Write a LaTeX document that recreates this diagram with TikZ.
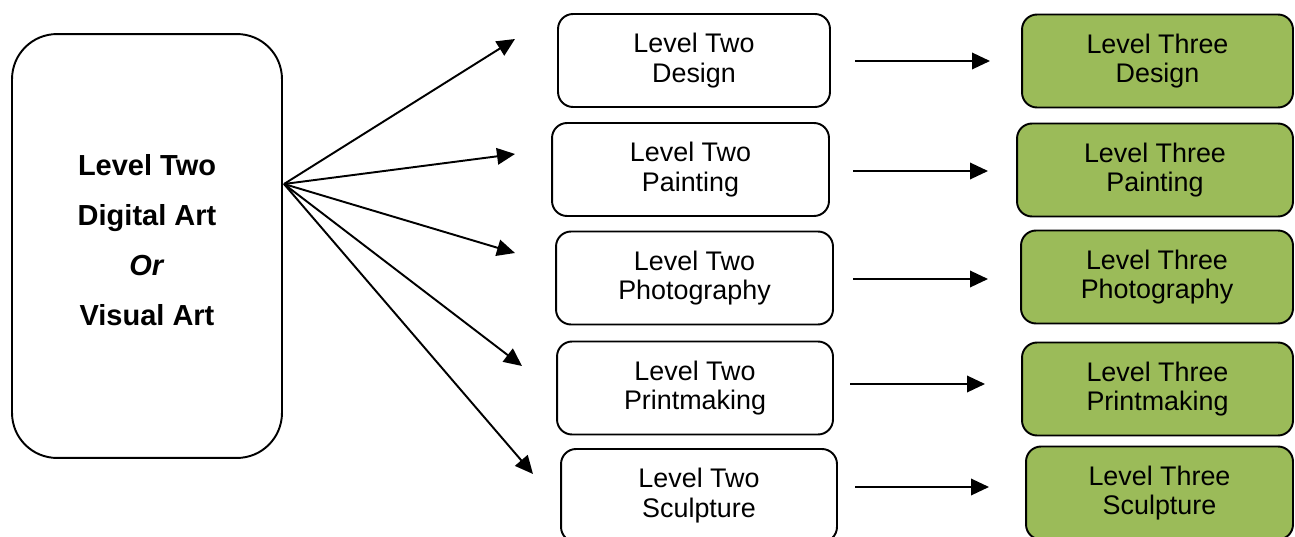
\documentclass[tikz,border=0pt]{standalone}
\usepackage{fontspec}
\setmainfont{Liberation Sans}
\usetikzlibrary{arrows.meta}

\definecolor{lvlgreen}{HTML}{9BBB59}

\begin{document}
\begin{tikzpicture}[x=0.02cm, y=-0.02cm,
  lvltwo/.style={draw, line width=1.1pt, rounded corners=0.3cm, align=center,
    minimum height=1.86cm, font=\fontsize{15.3}{17}\selectfont},
  lvlthree/.style={lvltwo, fill=lvlgreen},
  mainbox/.style={draw, line width=1.1pt, rounded corners=0.9cm,
    minimum width=5.4cm, minimum height=8.48cm},
  maintext/.style={align=center, font=\bfseries\fontsize{16.5}{28.5}\selectfont},
  arr/.style={-{Triangle[length=0.36cm,width=0.33cm]}, line width=1.1pt}]

\useasboundingbox (0,0) rectangle (1295,537);

\node[mainbox] (main) at (147,246) {};
\node[maintext] (mainlbl) at (147,240) {Level Two\\Digital Art\\\textit{Or}\\Visual Art};

\node[lvltwo, minimum width=5.44cm] (two1) at (694,60.5) {Level Two\\Design};
\node[lvltwo, minimum width=5.54cm] (two2) at (690.5,169.5) {Level Two\\Painting};
\node[lvltwo, minimum width=5.54cm] (two3) at (694.5,278) {Level Two\\Photography};
\node[lvltwo, minimum width=5.52cm] (two4) at (695,388) {Level Two\\Printmaking};
\node[lvltwo, minimum width=5.52cm] (two5) at (699,495.5) {Level Two\\Sculpture};

\node[lvlthree, minimum width=5.42cm] (three1) at (1157.5,61) {Level Three\\Design};
\node[lvlthree, minimum width=5.52cm] (three2) at (1155,170) {Level Three\\Painting};
\node[lvlthree, minimum width=5.44cm] (three3) at (1157,277) {Level Three\\Photography};
\node[lvlthree, minimum width=5.42cm] (three4) at (1157.5,389) {Level Three\\Printmaking};
\node[lvlthree, minimum width=5.34cm] (three5) at (1159.5,493) {Level Three\\Sculpture};

% fan out of the main box
\coordinate (fan) at (284,184);
\coordinate (t1) at (515,39);
\coordinate (t2) at (515,154);
\coordinate (t3) at (515,253);
\coordinate (t4) at (522,366);
\coordinate (t5) at (533,474);

\draw[arr] (fan) -- (t1);
\draw[arr] (fan) -- (t2);
\draw[arr] (fan) -- (t3);
\draw[arr] (fan) -- (t4);
\draw[arr] (fan) -- (t5);

% level two to level three
\coordinate (s1) at (855,61);  \coordinate (e1) at (990,61);
\coordinate (s2) at (853,171); \coordinate (e2) at (988,171);
\coordinate (s3) at (853,279); \coordinate (e3) at (988,279);
\coordinate (s4) at (850,384); \coordinate (e4) at (985,384);
\coordinate (s5) at (855,487); \coordinate (e5) at (989,487);

\draw[arr] (s1) -- (e1);
\draw[arr] (s2) -- (e2);
\draw[arr] (s3) -- (e3);
\draw[arr] (s4) -- (e4);
\draw[arr] (s5) -- (e5);

\end{tikzpicture}
\end{document}
